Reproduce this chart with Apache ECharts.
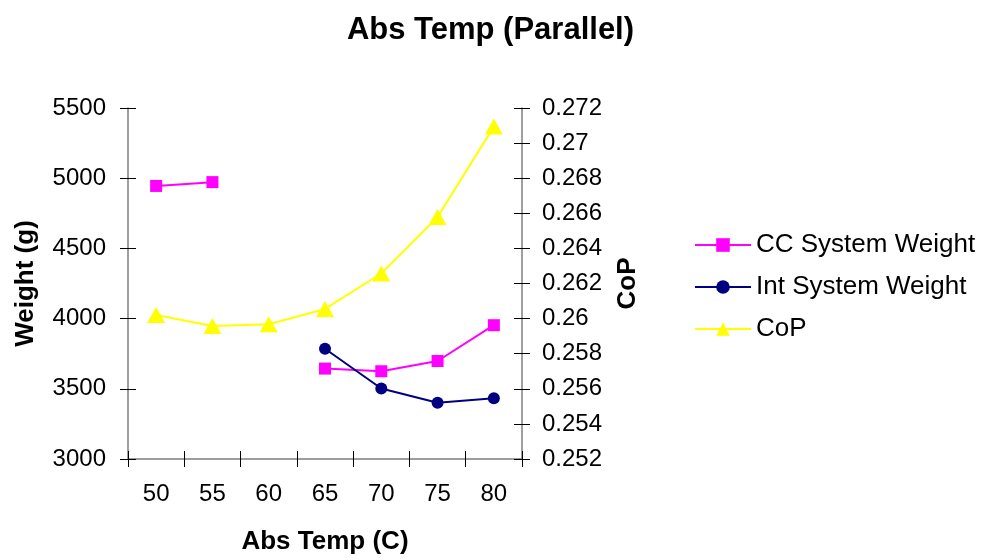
<!DOCTYPE html>
<html>
<head>
<meta charset="utf-8">
<script src="https://cdn.jsdelivr.net/npm/echarts@6/dist/echarts.min.js"></script>
<style>
  html, body { margin: 0; padding: 0; background: #fff; }
  #chart { width: 981px; height: 560px; }
</style>
</head>
<body>
<div id="chart"></div>
<script>
var temps = ["50", "55", "60", "65", "70", "75", "80"];
var ccWeight = [4945, 4972, null, 3644, 3625, 3698, 3953];
var intWeight = [null, null, null, 3785, 3502, 3401, 3432];
var cop = [0.2602, 0.25958, 0.25968, 0.26055, 0.26257, 0.26579, 0.27094];

var font = "Liberation Sans";
var myChart = echarts.init(document.getElementById("chart"));

// ticks in the picture cross the axis line, so each axis gets a twin with inside ticks
function yAx(pos, min, max, interval, inside, name, gap) {
  return {
    type: "value",
    position: pos,
    min: min,
    max: max,
    interval: interval,
    name: inside ? "" : name,
    nameLocation: "middle",
    nameGap: gap,
    nameTextStyle: { fontFamily: font, fontSize: 26, fontWeight: "bold", color: "#000" },
    axisLine: { show: !inside, lineStyle: { color: "#7f7f7f", width: 1.5 } },
    axisTick: { show: true, inside: inside, length: 8, lineStyle: { color: "#000", width: 1 } },
    axisLabel: {
      show: !inside,
      margin: pos == "left" ? 22 : 20,
      fontFamily: font,
      fontSize: 24,
      color: "#000",
      formatter: function (v) {
        return String(v);
      },
    },
    splitLine: { show: false },
  };
}

var option = {
  animation: false,
  backgroundColor: "#fff",
  title: {
    text: "Abs Temp (Parallel)",
    left: "center",
    top: 10,
    textStyle: { fontFamily: font, fontSize: 31, fontWeight: "bold", color: "#000" },
  },
  grid: { left: 128, right: 459, top: 108, bottom: 98 },
  legend: {
    orient: "vertical",
    left: 689,
    top: 227,
    itemWidth: 56,
    itemHeight: 17,
    itemGap: 16,
    textStyle: { fontFamily: font, fontSize: 26, color: "#000" },
    data: ["CC System Weight", "Int System Weight", "CoP"],
  },
  xAxis: [
    {
      type: "category",
      data: temps,
      position: "bottom",
      name: "Abs Temp (C)",
      nameLocation: "middle",
      nameGap: 70,
      nameTextStyle: { fontFamily: font, fontSize: 26, fontWeight: "bold", color: "#000" },
      axisLine: { lineStyle: { color: "#7f7f7f", width: 1.5 } },
      axisTick: { show: true, length: 8, lineStyle: { color: "#000", width: 1 } },
      axisLabel: { margin: 23, fontFamily: font, fontSize: 24, color: "#000" },
    },
    {
      type: "category",
      data: temps,
      position: "bottom",
      axisLine: { show: false },
      axisTick: { show: true, inside: true, length: 8, lineStyle: { color: "#000", width: 1 } },
      axisLabel: { show: false },
    },
  ],
  yAxis: [
    yAx("left", 3000, 5500, 500, false, "Weight (g)", 89),
    yAx("right", 0.252, 0.272, 0.002, false, "CoP", 93),
    yAx("left", 3000, 5500, 500, true),
    yAx("right", 0.252, 0.272, 0.002, true),
  ],
  series: [
    {
      name: "CC System Weight",
      type: "line",
      data: ccWeight,
      yAxisIndex: 0,
      symbol: "rect",
      symbolSize: 12,
      lineStyle: { color: "#ff00ff", width: 2 },
      itemStyle: { color: "#ff00ff" },
    },
    {
      name: "Int System Weight",
      type: "line",
      data: intWeight,
      yAxisIndex: 0,
      symbol: "circle",
      symbolSize: 12,
      lineStyle: { color: "#000080", width: 2 },
      itemStyle: { color: "#000080" },
    },
    {
      name: "CoP",
      type: "line",
      data: cop,
      yAxisIndex: 1,
      symbol: "triangle",
      symbolSize: [18, 16],
      lineStyle: { color: "#ffff00", width: 2 },
      itemStyle: { color: "#ffff00" },
    },
  ],
};
option && myChart.setOption(option);
</script>
</body>
</html>
